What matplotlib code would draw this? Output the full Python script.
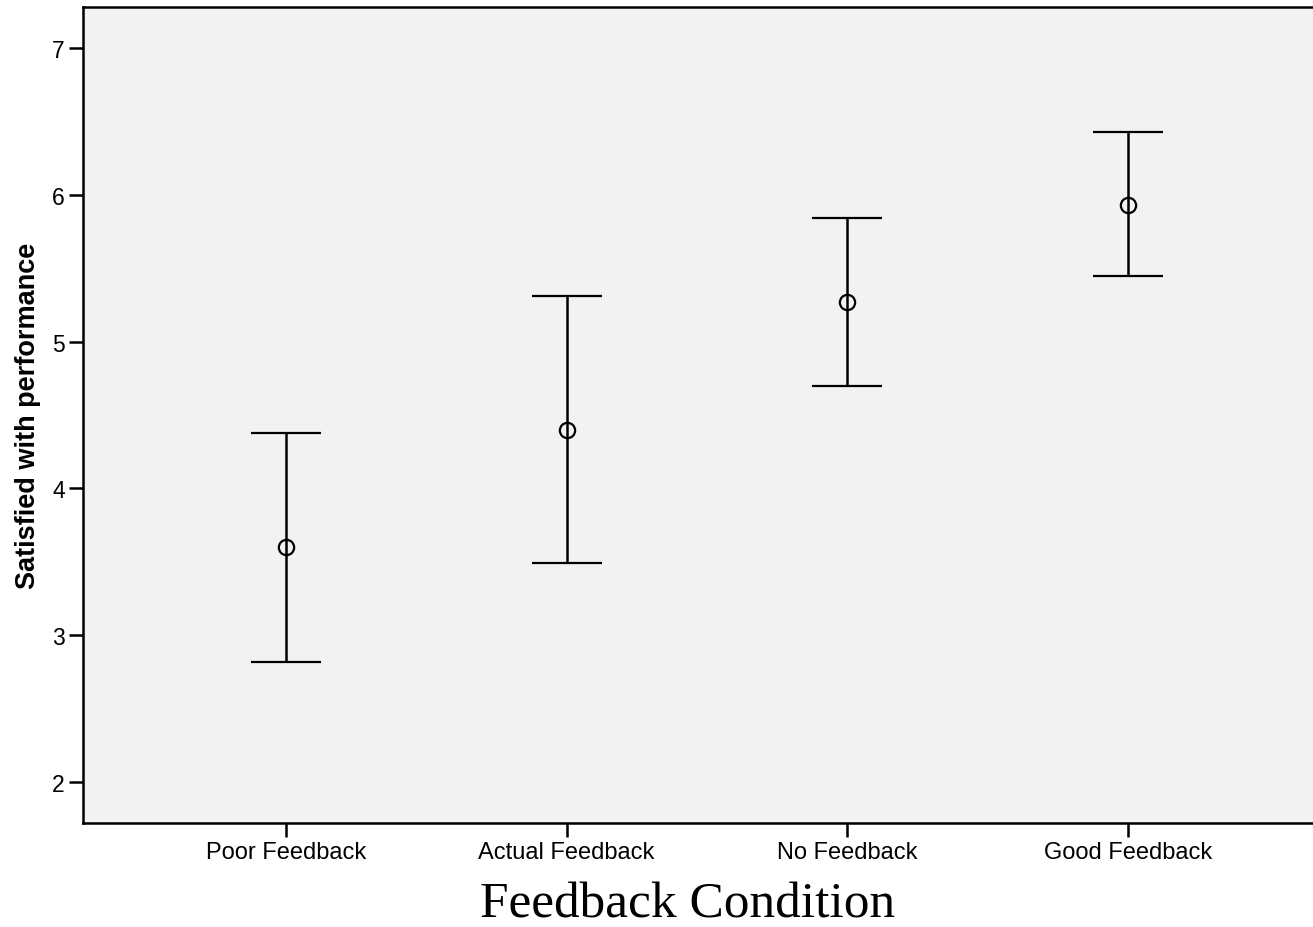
import numpy as np
import matplotlib
matplotlib.use("Agg")
import matplotlib.pyplot as plt

# group means with upper/lower interval ends
conditions = ["Poor Feedback", "Actual Feedback", "No Feedback", "Good Feedback"]
means = [3.60, 4.40, 5.27, 5.93]
upper = [4.38, 5.31, 5.84, 6.43]
lower = [2.82, 3.49, 4.70, 5.45]
yticks = [2, 3, 4, 5, 6, 7]

x = np.arange(1, len(conditions) + 1)
means = np.array(means)
err = [means - np.array(lower), np.array(upper) - means]

fig = plt.figure(figsize=(13.13, 9.28), dpi=100)
ax = fig.add_axes([83 / 1313, 104 / 928, 1248 / 1313, 816.5 / 928])
ax.set_facecolor("#f2f2f2")

ax.errorbar(x, means, yerr=err, fmt="o", color="black", mfc="none",
            mec="black", ms=11, mew=1.6, elinewidth=1.8, capsize=25,
            capthick=1.8)

ax.set_xlim(0.278, 4.722)
ax.set_ylim(1.72, 7.283)
ax.set_xticks(x)
ax.set_xticklabels(conditions, family="Liberation Sans", fontsize=17)
ax.set_yticks(yticks)
ax.set_yticklabels([str(t) for t in yticks], family="Liberation Sans", fontsize=16.5)
ax.tick_params(direction="out", length=10, width=1.8, pad=3)

for side in ["left", "bottom", "top"]:
    ax.spines[side].set_linewidth(1.8)
ax.spines["right"].set_visible(False)

ax.set_ylabel("Satisfied with performance", family="Liberation Sans",
              fontweight="bold", fontsize=19.5, labelpad=8)
fig.text(688 / 1313, 1 - 905 / 928, "Feedback Condition", family="Liberation Serif",
         fontsize=37, ha="center", va="center")

fig.savefig("out.png", dpi=100)
